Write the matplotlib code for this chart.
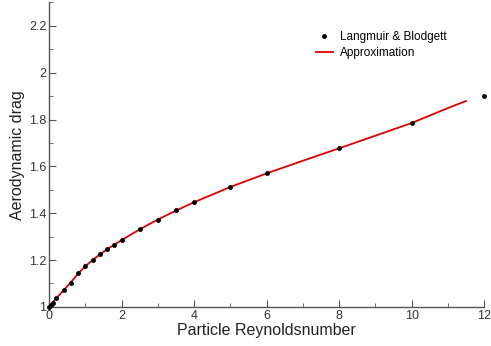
import numpy as np
import matplotlib
matplotlib.use('Agg')
import matplotlib.pyplot as plt
from matplotlib.ticker import MultipleLocator

plt.rcParams['font.family'] = ['Liberation Sans', 'DejaVu Sans']

# Langmuir & Blodgett table
lb_re = [0.0, 0.05, 0.1, 0.2, 0.4, 0.6, 0.8, 1.0, 1.2, 1.4, 1.6, 1.8, 2.0,
         2.5, 3.0, 3.5, 4.0, 5.0, 6.0, 8.0, 10.0, 12.0]
lb_drag = [1.0, 1.01, 1.018, 1.036, 1.071, 1.103, 1.143, 1.175, 1.2, 1.225,
           1.248, 1.266, 1.285, 1.331, 1.373, 1.413, 1.447, 1.513, 1.570,
           1.677, 1.785, 1.902]

# approximation curve
ap_re = [0.0, 0.05, 0.1, 0.2, 0.4, 0.6, 0.8, 1.0, 1.2, 1.4, 1.6, 1.8, 2.0,
         2.5, 3.0, 3.5, 4.0, 5.0, 6.0, 7.0, 8.0, 9.0, 10.0, 11.0, 11.5]
ap_drag = [1.0, 1.01, 1.019, 1.037, 1.071, 1.105, 1.142, 1.174, 1.2, 1.224,
           1.246, 1.266, 1.285, 1.331, 1.373, 1.411, 1.447, 1.512, 1.570,
           1.624, 1.677, 1.731, 1.785, 1.849, 1.879]

fig = plt.figure(figsize=(4.91, 3.46), dpi=100)
ax = fig.add_axes([0.1, 0.113, 0.886, 0.88])

ax.plot(lb_re, lb_drag, 'o', color='black', markersize=2.5,
        label='Langmuir & Blodgett', zorder=3, clip_on=False)
ax.plot(ap_re, ap_drag, '-', color='#dd0000', linewidth=1.3,
        label='Approximation', zorder=2)

ax.set_xlim(0, 12)
ax.set_ylim(1, 2.3)
ax.xaxis.set_minor_locator(MultipleLocator(1))
ax.yaxis.set_minor_locator(MultipleLocator(0.1))
ax.set_yticks([1, 1.2, 1.4, 1.6, 1.8, 2, 2.2])
ax.set_yticklabels(['1', '1.2', '1.4', '1.6', '1.8', '2', '2.2'])
ax.set_xticks([0, 2, 4, 6, 8, 10, 12])
ax.set_xticklabels(['0', '2', '4', '6', '8', '10', '12'])

for s in ['top', 'right']:
    ax.spines[s].set_visible(False)
for s in ['left', 'bottom']:
    ax.spines[s].set_color('#555555')
    ax.spines[s].set_linewidth(1.0)

ax.tick_params(which='both', direction='in', colors='#555555', labelcolor='#333333',
               labelsize=9)
ax.tick_params(which='major', length=5, pad=2)
ax.tick_params(which='minor', length=3)

ax.set_xlabel('Particle Reynoldsnumber', fontsize=11.5, color='#222222', labelpad=1)
ax.set_ylabel('Aerodynamic drag', fontsize=11.5, color='#222222', labelpad=3)

leg = ax.legend(loc='upper right', bbox_to_anchor=(0.939, 0.94), frameon=False,
                fontsize=8.5, handlelength=1.5, handletextpad=0.6,
                labelspacing=0.3, markerscale=1.0)

fig.savefig('out.png', dpi=100)
